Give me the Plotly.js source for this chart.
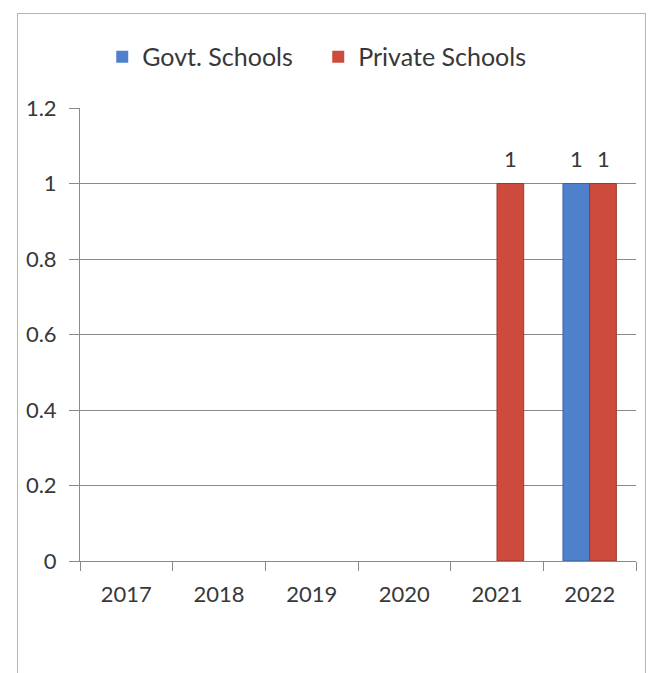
<!DOCTYPE html>
<html>
<head>
<meta charset="utf-8">
<script src="https://cdn.plot.ly/plotly-3.0.1.min.js"></script>
<style>
  html, body { margin: 0; padding: 0; background: #fff; }
  #wrap { position: relative; width: 649px; height: 673px; overflow: hidden; }
  #chart { width: 649px; height: 673px; }
  #frame { position: absolute; left: 17px; top: 13px; width: 627px; height: 700px;
           border: 1px solid #b5b5b5; pointer-events: none; }
</style>
</head>
<body>
<div id="wrap">
  <div id="chart"></div>
  <div id="frame"></div>
</div>
<script>
// ---- data ----
var years = ['2017', '2018', '2019', '2020', '2021', '2022'];
var govtSchools = [0, 0, 0, 0, 0, 1];
var privateSchools = [0, 0, 0, 0, 1, 1];
var seriesNames = ['Govt. Schools', 'Private Schools'];
var yTickVals = [0, 0.2, 0.4, 0.6, 0.8, 1, 1.2];
var yTickText = ['0', '0.2', '0.4', '0.6', '0.8', '1', '1.2'];

// ---- style ----
var W = 649, H = 673;
var margin = {l: 80, r: 13, t: 108, b: 112};
var bargap = 0.424;
var fontFam = 'Lato, "Liberation Sans", Arial, sans-serif';
var textCol = '#383838';

var plotW = W - margin.l - margin.r;
var catW = plotW / years.length;
var barW = catW * (1 - bargap) / 2;

function lineWidths(vals) { return vals.map(function (v) { return v !== 0 ? 1 : 0; }); }

var traces = [
  {type: 'bar', name: seriesNames[0], x: years, y: govtSchools,
   marker: {color: '#4f80cc', line: {color: '#3d62a0', width: lineWidths(govtSchools)}}},
  {type: 'bar', name: seriesNames[1], x: years, y: privateSchools,
   marker: {color: '#cc4b3c', line: {color: '#9a3a2f', width: lineWidths(privateSchools)}}}
];

var annotations = [];
[govtSchools, privateSchools].forEach(function (vals, si) {
  vals.forEach(function (v, i) {
    if (v !== 0) {
      annotations.push({
        x: i, y: v, xref: 'x', yref: 'y', text: String(v),
        showarrow: false, yanchor: 'bottom', yshift: 10,
        xshift: (si === 0 ? -1 : 1) * barW / 2,
        font: {family: fontFam, size: 22, color: textCol}
      });
    }
  });
});

var layout = {
  width: W, height: H,
  margin: margin,
  paper_bgcolor: '#fff', plot_bgcolor: '#fff',
  barmode: 'group', bargap: bargap, bargroupgap: 0,
  font: {family: fontFam, size: 22, color: textCol},
  showlegend: true,
  legend: {orientation: 'h', x: 0.04, xanchor: 'left', y: 1.1126, yanchor: 'middle',
           font: {family: fontFam, size: 25, color: textCol},
           entrywidth: 171, entrywidthmode: 'pixels', traceorder: 'normal'},
  xaxis: {type: 'category', range: [-0.5, years.length - 0.5],
          tickson: 'boundaries', ticks: 'outside', ticklen: 9,
          tickcolor: '#8a8a8a', showline: true, linecolor: '#8a8a8a', linewidth: 1,
          showgrid: false, zeroline: false, ticklabelstandoff: 14,
          tickfont: {family: fontFam, size: 22, color: textCol}},
  yaxis: {range: [0, 1.2], tickvals: yTickVals, ticktext: yTickText,
          ticks: 'outside', ticklen: 10, tickcolor: '#8a8a8a',
          showline: true, linecolor: '#8a8a8a', linewidth: 1,
          showgrid: true, gridcolor: '#8a8a8a', gridwidth: 1, zeroline: false,
          ticklabelstandoff: 8,
          tickfont: {family: fontFam, size: 22, color: textCol}},
  annotations: annotations
};

Plotly.newPlot('chart', traces, layout, {displayModeBar: false, staticPlot: true});
</script>
</body>
</html>
